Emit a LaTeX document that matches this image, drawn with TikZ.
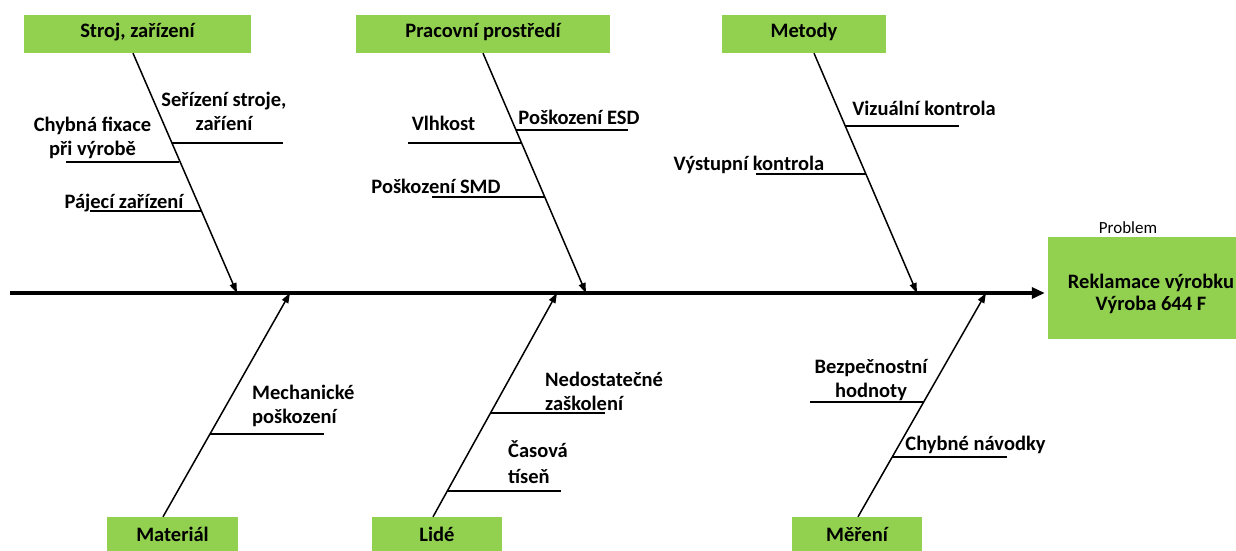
\documentclass[tikz,border=0pt]{standalone}
\usepackage{fontspec}
\setmainfont{Carlito}
\usetikzlibrary{arrows.meta}
\definecolor{boxgreen}{HTML}{92D050}
\newcommand\lblfont{\bfseries\fontsize{20.5}{24}\selectfont}
\begin{document}
\begin{tikzpicture}[x=1pt,y=-1pt,
  greenfill/.style={fill=boxgreen, draw=none, inner sep=0pt},
  box/.style={greenfill, font=\lblfont, text height=13pt, text depth=6pt, minimum height=38pt},
  lbl/.style={font=\lblfont, inner sep=0pt, anchor=base},
  spine/.style={line width=3.5pt, -{Triangle[length=13pt,width=11pt]}, shorten >=3pt},
  branch/.style={line width=1.5pt, -{Triangle[length=10pt,width=7pt]}},
  rib/.style={line width=1.4pt}]
\useasboundingbox (0,0) rectangle (1236,550);

% category boxes
\node[box, minimum width=227pt] (stroj) at (137.5,34) {Stroj, zařízení};
\node[box, minimum width=254pt] (prac)  at (483,34)   {Pracovní prostředí};
\node[box, minimum width=164pt] (met)   at (804,34)   {Metody};
\node[box, minimum width=131pt, text depth=3pt] (mat)  at (172.5,536) {Materiál};
\node[box, minimum width=130pt, text depth=3pt] (lide) at (437,536)   {Lidé};
\node[box, minimum width=130pt, text depth=3pt] (mer)  at (857,536)   {Měření};

% problem (head of the fish)
\node[font=\fontsize{17}{19}\selectfont, inner sep=0pt, anchor=base] (plabel) at (1128,233) {Problem};
\node[greenfill, minimum width=206pt, minimum height=102pt] (prob) at (1151,288) {};
\node[lbl, align=center, font=\bfseries\fontsize{20.5}{22}\selectfont] (probtxt) at (1151,310)
      {Reklamace výrobku\\Výroba 644 F};

% spine
\coordinate (tail) at (10,293);
\draw[spine] (tail) -- (tail -| prob.west);

% points where the bones meet the spine
\coordinate (tS) at (237,293);
\coordinate (tP) at (586,293);
\coordinate (tM) at (917,293);
\coordinate (tA) at (290,293);
\coordinate (tL) at (557,293);
\coordinate (tR) at (986,293);

% main bones
\draw[branch] ([xshift=-4.5pt]stroj.south) -- (tS);
\draw[branch] (prac.south) -- (tP);
\draw[branch] ([xshift=10pt]met.south) -- (tM);
\draw[branch] ([xshift=-9.5pt]mat.north) -- (tA);
\draw[branch] ([xshift=-4pt]lide.north) -- (tL);
\draw[branch] ([xshift=1pt]mer.north) -- (tR);

% Stroj, zařízení
\coordinate (s1a) at (172,143);   \coordinate (s1b) at (283,143);
\coordinate (s2a) at (66,162);    \coordinate (s2b) at (179,162);
\coordinate (s3a) at (90,211);    \coordinate (s3b) at (201.5,211);
\draw[rib] (s1a) -- (s1b);
\draw[rib] (s2a) -- (s2b);
\draw[rib] (s3a) -- (s3b);
\node[lbl, align=center] (l_ser) at (224,130.5) {Seřízení stroje,\\zaříení};
\node[lbl, align=center] (l_chf) at (92.5,155) {Chybná fixace\\při výrobě};
\node[lbl] (l_paj) at (124,208) {Pájecí zařízení};

% Pracovní prostředí
\coordinate (p1a) at (516,130);   \coordinate (p1b) at (628,130);
\coordinate (p2a) at (408,143);   \coordinate (p2b) at (521.6,143);
\coordinate (p3a) at (432,197);   \coordinate (p3b) at (544.8,197);
\draw[rib] (p1a) -- (p1b);
\draw[rib] (p2a) -- (p2b);
\draw[rib] (p3a) -- (p3b);
\node[lbl] (l_esd) at (579,124) {Poškození ESD};
\node[lbl] (l_vlh) at (443.5,130) {Vlhkost};
\node[lbl] (l_smd) at (436,193) {Poškození SMD};

% Metody
\coordinate (m1a) at (845.3,126); \coordinate (m1b) at (959,126);
\coordinate (m2a) at (756,174);   \coordinate (m2b) at (865.9,174);
\draw[rib] (m1a) -- (m1b);
\draw[rib] (m2a) -- (m2b);
\node[lbl] (l_viz) at (924,115) {Vizuální kontrola};
\node[lbl] (l_vys) at (749,170) {Výstupní kontrola};

% Materiál
\coordinate (a1a) at (210.1,434); \coordinate (a1b) at (324,434);
\draw[rib] (a1a) -- (a1b);
\node[lbl, align=left, anchor=base west] (l_mech) at (252,423) {Mechanické\\poškození};

% Lidé
\coordinate (d1a) at (490.6,413); \coordinate (d1b) at (605,413);
\coordinate (d2a) at (447.4,491); \coordinate (d2b) at (561,491);
\draw[rib] (d1a) -- (d1b);
\draw[rib] (d2a) -- (d2b);
\node[lbl, align=left, anchor=base west] (l_ned) at (545,410) {Nedostatečné\\zaškolení};
\node[lbl, align=left, anchor=base west, font=\bfseries\fontsize{20.5}{26}\selectfont] (l_cas) at (508,483) {Časová\\tíseň};

% Měření
\coordinate (r1a) at (810,402);   \coordinate (r1b) at (923.7,402);
\coordinate (r2a) at (892.3,457); \coordinate (r2b) at (1007,457);
\draw[rib] (r1a) -- (r1b);
\draw[rib] (r2a) -- (r2b);
\node[lbl, align=center] (l_bez) at (871,397) {Bezpečnostní\\hodnoty};
\node[lbl] (l_nav) at (975.5,450) {Chybné návodky};
\end{tikzpicture}
\end{document}
